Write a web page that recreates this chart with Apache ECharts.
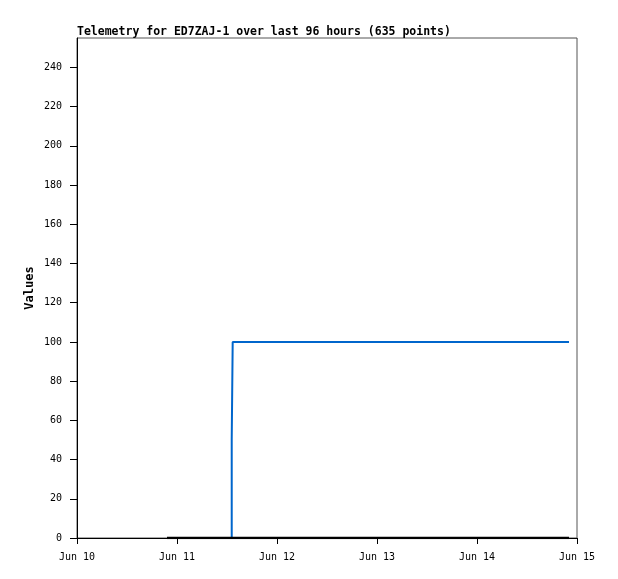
<!DOCTYPE html>
<html>
<head>
<meta charset="utf-8">
<script src="https://cdn.jsdelivr.net/npm/echarts@6/dist/echarts.min.js"></script>
<style>html,body{margin:0;padding:0;background:#fff;}#c{width:618px;height:579px;}</style>
</head>
<body>
<div id="c"></div>
<script>
var titleText = 'Telemetry for ED7ZAJ-1 over last 96 hours (635 points)';
var yTicks = [0, 20, 40, 60, 80, 100, 120, 140, 160, 180, 200, 220, 240];
var xTickLabels = ['Jun 10', 'Jun 11', 'Jun 12', 'Jun 13', 'Jun 14', 'Jun 15'];
var DAY = 86400000;
var T0 = Date.UTC(2024, 5, 10, 0, 0);
var T1 = Date.UTC(2024, 5, 15, 0, 0);
// blue series (step up)
var blueTimes = [Date.UTC(2024,5,10,21,36), Date.UTC(2024,5,11,13,8), Date.UTC(2024,5,11,13,8), Date.UTC(2024,5,11,13,22), Date.UTC(2024,5,11,13,22), Date.UTC(2024,5,14,22,5)];
var blueValues = [0, 0, 50, 50, 100, 100];
// black series (flat zero)
var blackTimes = [Date.UTC(2024,5,10,21,36), Date.UTC(2024,5,14,22,5)];
var blackValues = [0, 0];

function zip(a, b) { return a.map(function (v, i) { return [v, b[i]]; }); }

var chart = echarts.init(document.getElementById('c'), null, {renderer: 'canvas'});
var mono = 'DejaVu Sans Mono';
chart.setOption({
  animation: false,
  backgroundColor: '#ffffff',
  title: {
    text: titleText, left: 77, top: 26, padding: 0,
    textStyle: {fontFamily: mono, fontSize: 11.5, fontWeight: 'bold', color: '#000'}
  },
  grid: {left: 77, right: 41, top: 38, bottom: 41, show: true, borderColor: '#555', borderWidth: 1, containLabel: false},
  xAxis: {
    type: 'value', min: T0, max: T1, interval: DAY,
    axisLine: {show: true, lineStyle: {color: '#000', width: 1}},
    axisTick: {show: true, length: 6, lineStyle: {color: '#000'}},
    splitLine: {show: false},
    axisLabel: {
      margin: 14, fontFamily: mono, fontSize: 10, color: '#000',
      formatter: function (v) { return xTickLabels[Math.round((v - T0) / DAY)] || ''; }
    }
  },
  yAxis: {
    type: 'value', min: 0, max: 255,
    name: 'Values', nameLocation: 'middle', nameGap: 41, nameMoveOverlap: false,
    nameTextStyle: {fontFamily: mono, fontSize: 12, fontWeight: 'bold', color: '#000'},
    axisLine: {show: true, lineStyle: {color: '#000', width: 1}},
    axisTick: {show: true, length: 7, customValues: yTicks, lineStyle: {color: '#000'}},
    splitLine: {show: false},
    axisLabel: {customValues: yTicks, margin: 15, fontFamily: mono, fontSize: 10, color: '#000'}
  },
  series: [
    {type: 'line', data: zip(blueTimes, blueValues), showSymbol: false, lineStyle: {color: '#0066cc', width: 2}, itemStyle: {color: '#0066cc'}, z: 2},
    {type: 'line', data: zip(blackTimes, blackValues), showSymbol: false, lineStyle: {color: '#000', width: 2.5}, itemStyle: {color: '#000'}, z: 3}
  ]
});
</script>
</body>
</html>
